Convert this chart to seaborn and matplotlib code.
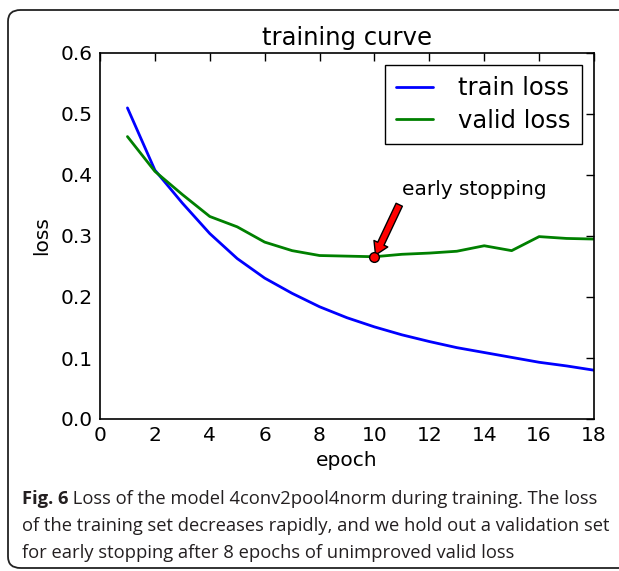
import matplotlib
matplotlib.use("Agg")
import matplotlib.pyplot as plt
from matplotlib.patches import FancyBboxPatch
import seaborn as sns
import pandas as pd

epochs = list(range(1, 19))
train_loss = [0.510, 0.408, 0.354, 0.304, 0.263, 0.231, 0.206, 0.184, 0.166,
              0.151, 0.138, 0.127, 0.117, 0.109, 0.101, 0.093, 0.087, 0.080]
valid_loss = [0.463, 0.406, 0.368, 0.332, 0.315, 0.290, 0.276, 0.268, 0.267,
              0.266, 0.270, 0.272, 0.275, 0.284, 0.276, 0.299, 0.296, 0.295]
series_names = ["train loss", "valid loss"]
stop_epoch = 10
stop_loss = 0.265
x_ticks = list(range(0, 20, 2))
y_ticks = [0.0, 0.1, 0.2, 0.3, 0.4, 0.5, 0.6]
title = "training curve"
caption_bold = "Fig. 6"
caption_lines = [
    " Loss of the model 4conv2pool4norm during training. The loss",
    "of the training set decreases rapidly, and we hold out a validation set",
    "for early stopping after 8 epochs of unimproved valid loss",
]

df = pd.DataFrame({
    "epoch": epochs * 2,
    "loss": train_loss + valid_loss,
    "series": [series_names[0]] * len(epochs) + [series_names[1]] * len(epochs),
})

sns.set_style("white")
plt.rcParams["font.family"] = ["DejaVu Sans"]
plt.rcParams["text.color"] = "black"
plt.rcParams["axes.labelcolor"] = "black"
plt.rcParams["xtick.color"] = "black"
plt.rcParams["ytick.color"] = "black"

fig = plt.figure(figsize=(6.19, 5.71), dpi=100)
ax = fig.add_axes([100 / 619, (571 - 419) / 571, 494 / 619, 366 / 571])

sns.lineplot(data=df, x="epoch", y="loss", hue="series",
             palette={series_names[0]: "blue", series_names[1]: "green"},
             linewidth=2, ax=ax, legend=False)

ax.plot([stop_epoch], [stop_loss], "o", color="red", markeredgecolor="black",
        markersize=7, markeredgewidth=1, zorder=5)
ax.annotate("early stopping", xy=(stop_epoch, stop_loss), xytext=(11.0, 0.367),
            fontsize=14.5, ha="left", va="baseline", color="black",
            arrowprops=dict(facecolor="red", edgecolor="black", shrink=0.04,
                            width=5, headwidth=11, headlength=9))

ax.set_xlim(0, 18)
ax.set_ylim(0, 0.6)
ax.set_xticks(x_ticks)
ax.set_yticks(y_ticks)
ax.set_yticklabels([f"{v:.1f}" for v in y_ticks])
ax.tick_params(axis="both", which="both", direction="in", length=6, width=1,
               top=True, right=True, labelsize=14.5, pad=5, colors="black")
for s in ax.spines.values():
    s.set_visible(True)
    s.set_color("black")
    s.set_linewidth(1.2)
ax.set_xlabel("epoch", fontsize=14.5, labelpad=4, color="black")
ax.set_ylabel("loss", fontsize=14.5, labelpad=7, color="black")
ax.set_title(title, fontsize=17.5, pad=6, color="black")

handles = ax.get_lines()[:2]
leg = ax.legend(handles, series_names, loc="upper right", fontsize=17.5,
                frameon=True, fancybox=False, framealpha=1, edgecolor="black",
                handlelength=1.5, handletextpad=1.05, borderpad=0.45,
                labelspacing=0.35, borderaxespad=0.5)
leg.get_frame().set_linewidth(1.0)
for txt in leg.get_texts():
    txt.set_color("black")

# rounded border around figure
border = FancyBboxPatch((8 / 619, 3 / 571), 640 / 619, 558 / 571,
                        boxstyle="round,pad=0,rounding_size=0.02",
                        transform=fig.transFigure, fill=False,
                        edgecolor="#222222", linewidth=1.3, clip_on=False)
fig.patches.append(border)

cap_font = ["Open Sans", "DejaVu Sans"]
cap_size = 13.2
cap_color = "#231f20"
y0 = 1 - 499 / 571
t = fig.text(22 / 619, y0, caption_bold, fontsize=cap_size, fontweight="bold",
             family=cap_font, va="center", ha="left", color=cap_color)
fig.canvas.draw()
bb = t.get_window_extent()
fig.text(bb.x1 / 619, y0, caption_lines[0], fontsize=cap_size, family=cap_font,
         va="center", ha="left", color=cap_color)
fig.text(22 / 619, 1 - 526 / 571, caption_lines[1], fontsize=cap_size,
         family=cap_font, va="center", ha="left", color=cap_color)
fig.text(22 / 619, 1 - 553 / 571, caption_lines[2], fontsize=cap_size,
         family=cap_font, va="center", ha="left", color=cap_color)

fig.savefig("out.png", dpi=100)
